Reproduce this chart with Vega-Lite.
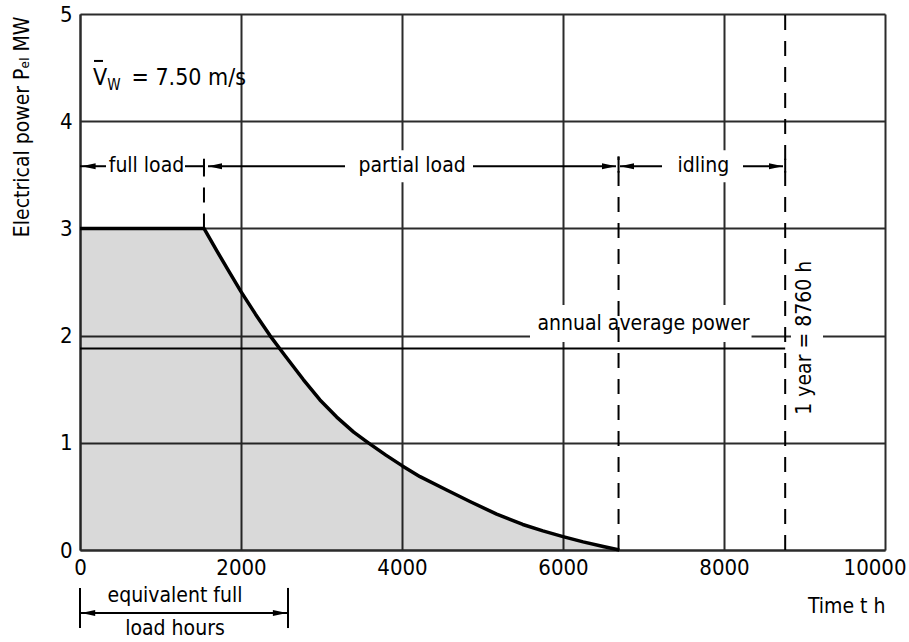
{
  "$schema": "https://vega.github.io/schema/vega-lite/v6.json",
  "width": 805,
  "height": 536,
  "autosize": "none",
  "padding": {"left": 80, "top": 14, "right": 24, "bottom": 92},
  "background": "white",
  "config": {
    "view": {"stroke": null},
    "font": "DejaVu Sans Condensed, Liberation Sans Narrow, Roboto",
    "text": {"font": "DejaVu Sans Condensed, Liberation Sans Narrow, Roboto", "fontSize": 21, "color": "black"},
    "axis": {
      "labelFont": "DejaVu Sans Condensed, Liberation Sans Narrow, Roboto",
      "titleFont": "DejaVu Sans Condensed, Liberation Sans Narrow, Roboto",
      "labelFontSize": 22,
      "titleFontSize": 21,
      "titleFontWeight": "normal",
      "labelColor": "black",
      "titleColor": "black",
      "grid": true,
      "gridColor": "#2b2b2b",
      "gridWidth": 2,
      "gridOpacity": 1,
      "domainColor": "#2b2b2b",
      "domainWidth": 2,
      "ticks": false,
      "tickSize": 0,
      "labelFlush": false,
      "labelOverlap": false
    }
  },
  "datasets": {
    "curve": [
      {"t": 0, "p": 3.0},
      {"t": 1540, "p": 3.0},
      {"t": 1700, "p": 2.79},
      {"t": 1850, "p": 2.60},
      {"t": 2000, "p": 2.41},
      {"t": 2180, "p": 2.20},
      {"t": 2360, "p": 2.0},
      {"t": 2550, "p": 1.81},
      {"t": 2774, "p": 1.59},
      {"t": 2981, "p": 1.40},
      {"t": 3189, "p": 1.24},
      {"t": 3400, "p": 1.10},
      {"t": 3582, "p": 1.0},
      {"t": 3800, "p": 0.885},
      {"t": 4000, "p": 0.787},
      {"t": 4224, "p": 0.684},
      {"t": 4555, "p": 0.56},
      {"t": 4850, "p": 0.45},
      {"t": 5176, "p": 0.335},
      {"t": 5500, "p": 0.238},
      {"t": 5750, "p": 0.178},
      {"t": 6000, "p": 0.125},
      {"t": 6250, "p": 0.076},
      {"t": 6500, "p": 0.032},
      {"t": 6700, "p": 0.0}
    ],
    "boxes": [
      {"t1": 3292, "t2": 4882, "p1": 3.43, "p2": 3.73},
      {"t1": 7230, "t2": 8236, "p1": 3.43, "p2": 3.73},
      {"t1": 5590, "t2": 8342, "p1": 1.94, "p2": 2.285},
      {"t1": 8832, "t2": 9230, "p1": 1.28, "p2": 2.75}
    ],
    "dashed": [
      {"t1": 1540, "t2": 1540, "p1": 3.0, "p2": 3.64},
      {"t1": 6690, "t2": 6690, "p1": 0.0, "p2": 3.67},
      {"t1": 8760, "t2": 8760, "p1": 0.0, "p2": 5.0}
    ],
    "solid": [
      {"t1": 0, "t2": 8760, "p1": 1.88, "p2": 1.88},
      {"t1": 0, "t2": 323, "p1": 3.58, "p2": 3.58},
      {"t1": 1304, "t2": 1540, "p1": 3.58, "p2": 3.58},
      {"t1": 1590, "t2": 3292, "p1": 3.58, "p2": 3.58},
      {"t1": 4882, "t2": 6658, "p1": 3.58, "p2": 3.58},
      {"t1": 6708, "t2": 7230, "p1": 3.58, "p2": 3.58},
      {"t1": 8236, "t2": 8733, "p1": 3.58, "p2": 3.58},
      {"t1": 1540, "t2": 1540, "p1": 3.52, "p2": 3.65},
      {"t1": 6690, "t2": 6690, "p1": 3.52, "p2": 3.67},
      {"t1": 8760, "t2": 8760, "p1": 3.52, "p2": 3.65},
      {"t1": 0, "t2": 2584, "p1": -0.588, "p2": -0.588},
      {"t1": 0, "t2": 0, "p1": -0.354, "p2": -0.728},
      {"t1": 2584, "t2": 2584, "p1": -0.354, "p2": -0.728},
      {"t1": 174, "t2": 286, "p1": 4.562, "p2": 4.562}
    ],
    "arrows": [
      {"t": 20, "p": 3.58, "dir": "left"},
      {"t": 1590, "p": 3.58, "dir": "left"},
      {"t": 6658, "p": 3.58, "dir": "right"},
      {"t": 6708, "p": 3.58, "dir": "left"},
      {"t": 8733, "p": 3.58, "dir": "right"},
      {"t": 15, "p": -0.588, "dir": "left"},
      {"t": 2570, "p": -0.588, "dir": "right"}
    ],
    "labels": [
      {"text": "full load", "t": 826, "p": 3.58},
      {"text": "partial load", "t": 4126, "p": 3.58},
      {"text": "idling", "t": 7745, "p": 3.58},
      {"text": "annual average power", "t": 7000, "p": 2.11},
      {"text": "equivalent full", "t": 1180, "p": -0.43},
      {"text": "load hours", "t": 1180, "p": -0.737}
    ],
    "vlabels": [
      {"text": "1 year = 8760 h", "t": 9006, "p": 1.98}
    ],
    "speed": [
      {"text": "V", "t": 161, "p": 4.338},
      {"text": "= 7.50 m/s", "t": 640, "p": 4.338}
    ],
    "speedsub": [
      {"text": "W", "t": 340, "p": 4.29}
    ]
  },
  "layer": [
    {
      "data": {"name": "curve"},
      "mark": {"type": "area", "color": "black", "opacity": 0.15},
      "encoding": {
        "x": {
          "field": "t", "type": "quantitative",
          "scale": {"domain": [0, 10000], "nice": false},
          "axis": {
            "values": [0, 2000, 4000, 6000, 8000, 10000],
            "title": "Time t h",
            "titleAnchor": "end",
            "titleBaseline": "alphabetic",
            "titleY": 62,
            "labelPadding": 7,
            "format": "d",
            "labelAlign": {"condition": {"test": "datum.value == 10000", "value": "right"}, "value": "center"},
            "labelOffset": {"condition": {"test": "datum.value == 10000", "value": 21}, "value": 0}
          }
        },
        "y": {
          "field": "p", "type": "quantitative",
          "scale": {"domain": [0, 5], "nice": false},
          "axis": {
            "values": [0, 1, 2, 3, 4, 5],
            "format": "d",
            "title": "Electrical power P\u2091\u2097 MW",
            "titleAnchor": "end",
            "titleAngle": 270,
            "titleAlign": "right",
            "titleBaseline": "middle",
            "titleX": -58,
            "titleY": 2,
            "labelPadding": 8
          }
        }
      }
    },
    {
      "data": {"name": "curve"},
      "mark": {"type": "line", "color": "black", "strokeWidth": 3.5, "strokeJoin": "round"},
      "encoding": {
        "x": {"field": "t", "type": "quantitative"},
        "y": {"field": "p", "type": "quantitative"}
      }
    },
    {
      "data": {"name": "boxes"},
      "mark": {"type": "rect", "color": "white", "opacity": 1},
      "encoding": {
        "x": {"field": "t1", "type": "quantitative"},
        "x2": {"field": "t2"},
        "y": {"field": "p1", "type": "quantitative"},
        "y2": {"field": "p2"}
      }
    },
    {
      "data": {"name": "dashed"},
      "mark": {"type": "rule", "color": "black", "strokeWidth": 2, "strokeDash": [15, 11]},
      "encoding": {
        "x": {"field": "t1", "type": "quantitative"},
        "x2": {"field": "t2"},
        "y": {"field": "p1", "type": "quantitative"},
        "y2": {"field": "p2"}
      }
    },
    {
      "data": {"name": "solid"},
      "mark": {"type": "rule", "color": "black", "strokeWidth": 2},
      "encoding": {
        "x": {"field": "t1", "type": "quantitative"},
        "x2": {"field": "t2"},
        "y": {"field": "p1", "type": "quantitative"},
        "y2": {"field": "p2"}
      }
    },
    {
      "data": {"name": "arrows"},
      "transform": [{"filter": "datum.dir == 'left'"}],
      "mark": {"type": "point", "filled": true, "color": "black", "opacity": 1, "size": 196, "shape": "M 0 0 L 2 -0.42 L 2 0.42 Z"},
      "encoding": {
        "x": {"field": "t", "type": "quantitative"},
        "y": {"field": "p", "type": "quantitative"}
      }
    },
    {
      "data": {"name": "arrows"},
      "transform": [{"filter": "datum.dir == 'right'"}],
      "mark": {"type": "point", "filled": true, "color": "black", "opacity": 1, "size": 196, "shape": "M 0 0 L -2 -0.42 L -2 0.42 Z"},
      "encoding": {
        "x": {"field": "t", "type": "quantitative"},
        "y": {"field": "p", "type": "quantitative"}
      }
    },
    {
      "data": {"name": "labels"},
      "mark": {"type": "text", "align": "center", "baseline": "middle", "fontSize": 21},
      "encoding": {
        "x": {"field": "t", "type": "quantitative"},
        "y": {"field": "p", "type": "quantitative"},
        "text": {"field": "text"}
      }
    },
    {
      "data": {"name": "vlabels"},
      "mark": {"type": "text", "align": "center", "baseline": "middle", "angle": 270, "fontSize": 21},
      "encoding": {
        "x": {"field": "t", "type": "quantitative"},
        "y": {"field": "p", "type": "quantitative"},
        "text": {"field": "text"}
      }
    },
    {
      "data": {"name": "speed"},
      "mark": {"type": "text", "align": "left", "baseline": "alphabetic", "fontSize": 23},
      "encoding": {
        "x": {"field": "t", "type": "quantitative"},
        "y": {"field": "p", "type": "quantitative"},
        "text": {"field": "text"}
      }
    },
    {
      "data": {"name": "speedsub"},
      "mark": {"type": "text", "align": "left", "baseline": "alphabetic", "fontSize": 15},
      "encoding": {
        "x": {"field": "t", "type": "quantitative"},
        "y": {"field": "p", "type": "quantitative"},
        "text": {"field": "text"}
      }
    }
  ]
}
